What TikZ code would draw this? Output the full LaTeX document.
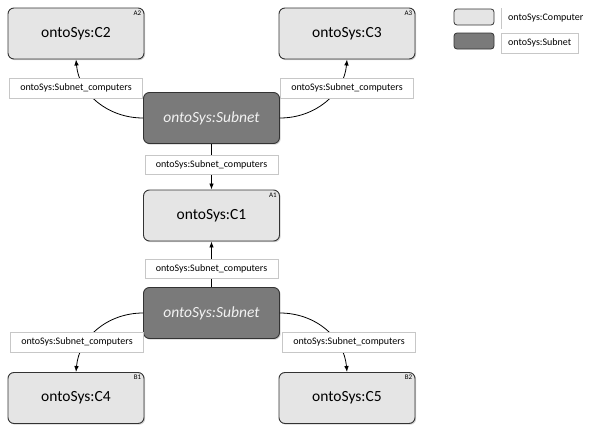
\documentclass[tikz,border=0pt]{standalone}
\usepackage{fontspec}
\setmainfont{Carlito}
\usetikzlibrary{arrows.meta,shadows}

\begin{document}
\begin{tikzpicture}[x=1pt,y=-1pt,
  pc/.style={draw=black!80, line width=0.9pt, rounded corners=6pt, fill=black!10,
    minimum width=136pt, minimum height=51pt, font=\fontsize{15.5}{18}\selectfont,
    drop shadow={shadow xshift=1.2pt, shadow yshift=-1.2pt, opacity=0.35}},
  net/.style={pc, fill=black!52, text=black!5, font=\fontsize{15.5}{18}\selectfont\itshape},
  rel/.style={draw=black!22, fill=white, minimum width=133pt, minimum height=19.5pt,
    inner sep=0pt, font=\fontsize{10}{12}\selectfont},
  tag/.style={anchor=north east, inner sep=3pt, font=\fontsize{7}{8}\selectfont},
  link/.style={-{Latex[length=6pt,width=4.5pt]}, line width=0.8pt},
  key/.style={draw=black!80, line width=0.8pt, rounded corners=3pt, minimum width=40pt,
    minimum height=16pt, inner sep=0pt},
  keytext/.style={anchor=west, inner xsep=7pt, minimum height=20pt, font=\fontsize{10}{12}\selectfont}
]
  \useasboundingbox (0,0) rectangle (590,426);
  % computers and subnets
  \node[pc, label={[tag]north east:A2}] (c2) at (76,33.5) {ontoSys:C2};
  \node[pc, label={[tag]north east:A3}] (c3) at (347,33.5) {ontoSys:C3};
  \node[net] (s1) at (211.5,118) {ontoSys:Subnet};
  \node[pc, label={[tag]north east:A1}] (c1) at (211.5,215.5) {ontoSys:C1};
  \node[net] (s2) at (211.5,313) {ontoSys:Subnet};
  \node[pc, label={[tag]north east:B1}] (c4) at (76,398) {ontoSys:C4};
  \node[pc, label={[tag]north east:B2}] (c5) at (347,398) {ontoSys:C5};
  % links
  \draw[link] (s1.west) to[out=180,in=-85] (c2.south);
  \draw[link] (s1.east) to[out=0,in=-95] (c3.south);
  \draw[link] (s1.south) -- (c1.north);
  \draw[link] (s2.north) -- (c1.south);
  \draw[link] (s2.west) to[out=180,in=85] (c4.north);
  \draw[link] (s2.east) to[out=0,in=95] (c5.north);
  % link labels
  \node[rel] (r2) at (76,88) {ontoSys:Subnet\_computers};
  \node[rel] (r3) at (347,88) {ontoSys:Subnet\_computers};
  \node[rel] (r1a) at (211.5,164.5) {ontoSys:Subnet\_computers};
  \node[rel] (r1b) at (211.5,268.5) {ontoSys:Subnet\_computers};
  \node[rel] (r4) at (77,342) {ontoSys:Subnet\_computers};
  \node[rel] (r5) at (349,342) {ontoSys:Subnet\_computers};
  % legend
  \node[key, fill=black!10] (k1) at (474,17) {};
  \node[key, fill=black!52] (k2) at (474,41) {};
  \node[keytext] (t1) at (501,18.5) {ontoSys:Computer};
  \node[keytext, draw=black!22, minimum height=19.5pt] (t2) at (501,43) {ontoSys:Subnet};
  \draw[black!22] (t1.north west) -- (t1.south west);
\end{tikzpicture}
\end{document}
